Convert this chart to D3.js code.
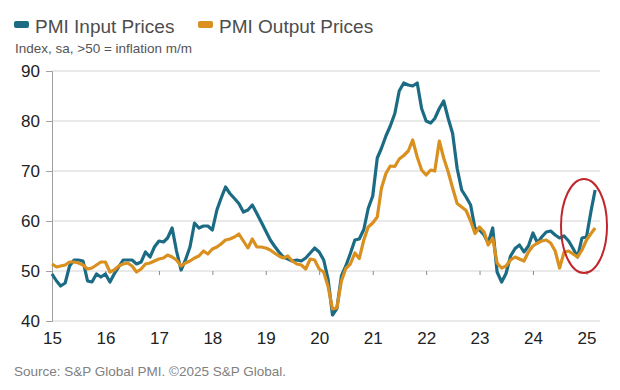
<!DOCTYPE html>
<html>
<head>
<meta charset="utf-8">
<script src="https://cdnjs.cloudflare.com/ajax/libs/d3/7.8.5/d3.min.js"></script>
<style>
  body { margin: 0; background: #fff; }
  svg { display: block; font-family: "Liberation Sans", Arial, sans-serif; }
</style>
</head>
<body>
<div id="chart"></div>
<script>
// monthly readings, Jan 2015 onwards
var startMonth = new Date(2015, 0, 1);

var inputPrices = [
    49.4, 48, 47, 47.6, 51, 52.2, 52.2, 52, 48, 47.8, 49.4, 48.8,        // 2015
    49.4, 47.8, 49.4, 50.8, 52.2, 52.2, 52.2, 51.4, 51.8, 53.8, 52.8, 54.8, // 2016
    56, 55.8, 56.6, 58.6, 54, 50.2, 52.2, 54.8, 59.6, 58.6, 59, 59,     // 2017
    58.2, 62.2, 64.5, 66.8, 65.5, 64.5, 63.5, 61.8, 62.2, 63.2, 61.5, 59.8, // 2018
    58, 56.2, 55, 53.8, 52.8, 52.4, 52, 52.2, 52, 52.6, 53.6, 54.6,     // 2019
    53.8, 52.2, 48.5, 41.2, 42.5, 49, 51, 53.5, 56.2, 56.4, 58.3, 62.5, // 2020
    65, 72.6, 74.5, 77, 79, 81.5, 86, 87.6, 87.2, 87, 87.6, 82.5,       // 2021
    80, 79.6, 80.5, 82.5, 84, 80.5, 77.5, 70.5, 66.2, 64.8, 63.2, 58.5, // 2022
    58.2, 57.2, 55.6, 58.6, 49.8, 47.8, 49.5, 53, 54.5, 55.2, 53.8, 55, // 2023
    57.6, 55.6, 56.8, 57.8, 58, 57.2, 56.6, 57, 56, 54.5, 52.8, 56.6,   // 2024
    56.8, 62, 66.2                                                      // 2025
];

var outputPrices = [
    51.4, 50.8, 51, 51.2, 51.8, 51.8, 51.6, 51.2, 50.4, 50.6, 51.2, 51.8,
    51.8, 49.8, 50.2, 51, 51.4, 51.6, 51, 49.8, 50.4, 51.4, 51.6, 52,
    52.4, 52.6, 53.2, 52.8, 52.2, 51, 51.6, 52, 52.6, 53, 54, 53.4,
    54.4, 54.8, 55.4, 56.2, 56.4, 56.8, 57.4, 56, 54.6, 56.4, 54.8, 54.8,
    54.6, 54.2, 53.6, 53, 52.6, 53, 52, 51.4, 51.2, 50.4, 52.4, 52.2,
    50.4, 49.8, 47, 42.4, 42.6, 48, 50.5, 51.4, 53.6, 52.5, 56.2, 58.8,
    59.6, 60.8, 66.5, 69.5, 71, 70.9, 72.4, 73.1, 74, 76.2, 72.8, 70.2,
    69.2, 70.2, 70, 76, 72.6, 69.8, 66.6, 63.5, 62.8, 62.1, 60, 57.5,
    58.8, 57.8, 55.2, 56.6, 51.6, 50.6, 51, 52.2, 52.8, 52.4, 52, 53.8,
    55, 55.6, 56, 56.2, 55.6, 54, 50.6, 53.8, 54, 53.4, 52.8, 54.2,
    56.2, 57.5, 58.6
];

var yTicks = [40, 50, 60, 70, 80, 90];
var seriesNames = ["PMI Input Prices", "PMI Output Prices"];
var seriesColors = ["#1b6b84", "#d9901e"];

makeChart();

function makeChart() {
    var svgWidth = 620;
    var svgHeight = 390;

    var svg = d3.select("#chart")
        .append("svg")
        .attr("width", svgWidth)
        .attr("height", svgHeight);

    var xScale = d3.scaleTime()
        .domain([new Date(2015, 0, 1), new Date(2025, 0, 1)])
        .range([52, 586.5]);

    var yScale = d3.scaleLinear()
        .domain([40, 90])
        .range([321, 71]);

    // gridlines
    svg.append("g")
        .selectAll("line")
        .data(yTicks)
        .enter()
        .append("line")
        .attr("x1", 52)
        .attr("x2", 600)
        .attr("y1", d => yScale(d))
        .attr("y2", d => yScale(d))
        .attr("stroke", "#d4d4d4")
        .attr("stroke-width", 1);

    // y axis
    var leftAxis = d3.axisLeft(yScale)
        .tickValues(yTicks)
        .tickSize(6)
        .tickPadding(6);

    var yAxisG = svg.append("g")
        .attr("transform", "translate(52,0)")
        .call(leftAxis);
    yAxisG.select(".domain").attr("stroke", "#a0a0a0");
    yAxisG.selectAll(".tick line").attr("stroke", "#a0a0a0");
    yAxisG.selectAll(".tick text")
        .attr("font-size", 17)
        .attr("font-family", "Liberation Sans, Arial, sans-serif")
        .attr("fill", "#222");

    // year ticks sitting on the 50 line
    var tickAxis = d3.axisBottom(xScale)
        .ticks(d3.timeYear.every(1))
        .tickSize(4)
        .tickFormat("");
    var tickG = svg.append("g")
        .attr("transform", `translate(0, ${yScale(50)})`)
        .call(tickAxis);
    tickG.select(".domain").remove();
    tickG.selectAll(".tick line").attr("stroke", "#8a8a8a");

    // year labels at the bottom
    var labelAxis = d3.axisBottom(xScale)
        .ticks(d3.timeYear.every(1))
        .tickSize(0)
        .tickPadding(11)
        .tickFormat(d3.timeFormat("%y"));
    var labelG = svg.append("g")
        .attr("transform", `translate(0, ${yScale(40)})`)
        .call(labelAxis);
    labelG.select(".domain").remove();
    labelG.selectAll(".tick text")
        .attr("font-size", 17)
        .attr("font-family", "Liberation Sans, Arial, sans-serif")
        .attr("fill", "#222");

    // lines, orange last so it sits on top
    var lineGen = d3.line()
        .x((d, i) => xScale(d3.timeMonth.offset(startMonth, i)))
        .y(d => yScale(d));

    [inputPrices, outputPrices].forEach(function(series, k) {
        svg.append("path")
            .datum(series)
            .attr("fill", "none")
            .attr("stroke", seriesColors[k])
            .attr("stroke-width", 3.2)
            .attr("stroke-linejoin", "round")
            .attr("d", lineGen);
    });

    // red circle round the latest readings
    svg.append("ellipse")
        .attr("cx", 584)
        .attr("cy", 226)
        .attr("rx", 23)
        .attr("ry", 47)
        .attr("fill", "none")
        .attr("stroke", "#c0272d")
        .attr("stroke-width", 2);

    // legend
    var legendX = [14, 198];
    seriesNames.forEach(function(name, k) {
        svg.append("rect")
            .attr("x", legendX[k])
            .attr("y", 21)
            .attr("width", 15)
            .attr("height", 7)
            .attr("rx", 2)
            .attr("fill", seriesColors[k]);
        svg.append("text")
            .attr("x", legendX[k] + 21)
            .attr("y", 33)
            .attr("font-size", 19)
            .attr("fill", "#4d4d4d")
            .text(name);
    });

    svg.append("text")
        .attr("x", 15)
        .attr("y", 53)
        .attr("font-size", 13.5)
        .attr("fill", "#555")
        .text("Index, sa, >50 = inflation m/m");

    svg.append("text")
        .attr("x", 14)
        .attr("y", 376)
        .attr("font-size", 13.5)
        .attr("fill", "#808080")
        .text("Source: S&P Global PMI. \u00a92025 S&P Global.");
}
</script>
</body>
</html>
